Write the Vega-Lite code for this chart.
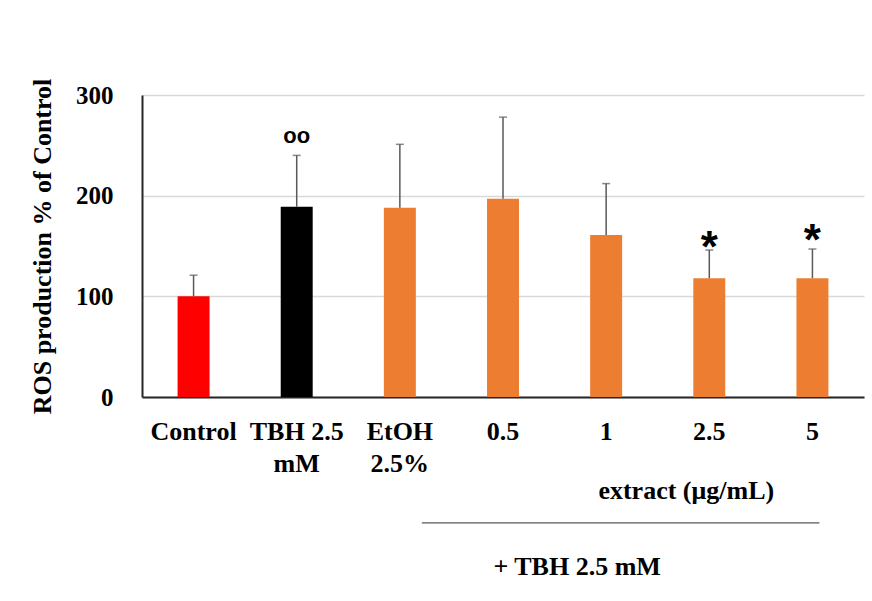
{
  "$schema": "https://vega.github.io/schema/vega-lite/v6.json",
  "autosize": {"type": "none"},
  "width": 722,
  "height": 302,
  "padding": {"left": 142, "top": 95, "right": 8, "bottom": 204},
  "background": "white",
  "config": {
    "view": {"stroke": null},
    "font": "Liberation Serif"
  },
  "datasets": {
    "bars": [
      {"group": "Control", "value": 100, "err": 121, "kind": "control"},
      {"group": "TBH 2.5|mM", "value": 189, "err": 240, "kind": "tbh"},
      {"group": "EtOH|2.5%", "value": 188, "err": 251, "kind": "extract"},
      {"group": "0.5", "value": 197, "err": 278, "kind": "extract"},
      {"group": "1", "value": 161, "err": 212, "kind": "extract"},
      {"group": "2.5", "value": 118, "err": 146, "kind": "extract"},
      {"group": "5", "value": 118, "err": 147, "kind": "extract"}
    ],
    "marks": [
      {"group": "TBH 2.5|mM", "y": 259, "label": "oo"},
      {"group": "2.5", "y": 159, "label": "*"},
      {"group": "5", "y": 166, "label": "*"}
    ]
  },
  "layer": [
    {
      "data": {"name": "bars"},
      "mark": {"type": "bar"},
      "encoding": {
        "x": {
          "field": "group", "type": "nominal",
          "scale": {"domain": ["Control", "TBH 2.5|mM", "EtOH|2.5%", "0.5", "1", "2.5", "5"], "paddingInner": 0.69, "paddingOuter": 0.345},
          "axis": {
            "title": null, "labelAngle": 0, "ticks": false,
            "domainColor": "#262626", "domainWidth": 2,
            "labelFont": "Liberation Serif", "labelFontSize": 26, "labelFontWeight": "bold",
            "labelColor": "#000000", "labelPadding": 21, "labelLineHeight": 32,
            "labelBaseline": "top",
            "labelExpr": "split(datum.label, '|')"
          }
        },
        "y": {
          "field": "value", "type": "quantitative",
          "scale": {"domain": [0, 300], "nice": false},
          "axis": {
            "title": "ROS production  % of Control",
            "titleFont": "Liberation Serif", "titleFontSize": 26, "titleFontWeight": "bold",
            "titleColor": "#000000", "titlePadding": 20,
            "values": [0, 100, 200, 300], "ticks": false,
            "domainColor": "#262626", "domainWidth": 2,
            "gridColor": "#d9d9d9", "gridWidth": 1.5,
            "labelFont": "Liberation Serif", "labelFontSize": 25, "labelFontWeight": "bold",
            "labelColor": "#000000", "labelPadding": 29
          }
        },
        "color": {
          "field": "kind", "type": "nominal",
          "scale": {"domain": ["control", "tbh", "extract"], "range": ["#ff0000", "#000000", "#ed7d31"]},
          "legend": null
        }
      }
    },
    {
      "data": {"name": "bars"},
      "mark": {"type": "rule", "color": "#595959", "strokeWidth": 1.5},
      "encoding": {
        "x": {"field": "group", "type": "nominal"},
        "y": {"field": "value", "type": "quantitative"},
        "y2": {"field": "err"}
      }
    },
    {
      "data": {"name": "bars"},
      "mark": {"type": "tick", "color": "#595959", "thickness": 1.5, "size": 8, "orient": "horizontal"},
      "encoding": {
        "x": {"field": "group", "type": "nominal"},
        "y": {"field": "err", "type": "quantitative"}
      }
    },
    {
      "data": {"name": "marks"},
      "transform": [{"filter": "datum.label == 'oo'"}],
      "mark": {"type": "text", "font": "Liberation Sans", "fontSize": 22, "fontWeight": "bold", "baseline": "middle", "color": "#000000"},
      "encoding": {
        "x": {"field": "group", "type": "nominal"},
        "y": {"field": "y", "type": "quantitative"},
        "text": {"field": "label"}
      }
    },
    {
      "data": {"name": "marks"},
      "transform": [{"filter": "datum.label == '*'"}],
      "mark": {"type": "text", "font": "Liberation Sans", "fontSize": 44, "fontWeight": "bold", "baseline": "alphabetic", "dy": 25, "color": "#000000"},
      "encoding": {
        "x": {"field": "group", "type": "nominal"},
        "y": {"field": "y", "type": "quantitative"},
        "text": {"field": "label"}
      }
    },
    {
      "data": {"values": [{"group": "2.5", "y": -93, "label": "extract (μg/mL)"}]},
      "mark": {"type": "text", "font": "Liberation Serif", "fontSize": 26, "fontWeight": "bold", "baseline": "middle", "color": "#000000", "dx": -23},
      "encoding": {
        "x": {"field": "group", "type": "nominal"},
        "y": {"field": "y", "type": "quantitative"},
        "text": {"field": "label"}
      }
    },
    {
      "data": {"values": [{"group": "1", "y": -169, "label": "+ TBH 2.5 mM"}]},
      "mark": {"type": "text", "font": "Liberation Serif", "fontSize": 26, "fontWeight": "bold", "baseline": "middle", "color": "#000000", "dx": -29},
      "encoding": {
        "x": {"field": "group", "type": "nominal"},
        "y": {"field": "y", "type": "quantitative"},
        "text": {"field": "label"}
      }
    },
    {
      "data": {"values": [{"from": "EtOH|2.5%", "to": "5", "y": -125}]},
      "mark": {"type": "rule", "color": "#595959", "strokeWidth": 1.2, "xOffset": 22, "x2Offset": 7},
      "encoding": {
        "x": {"field": "from", "type": "nominal"},
        "x2": {"field": "to"},
        "y": {"field": "y", "type": "quantitative"}
      }
    }
  ]
}
